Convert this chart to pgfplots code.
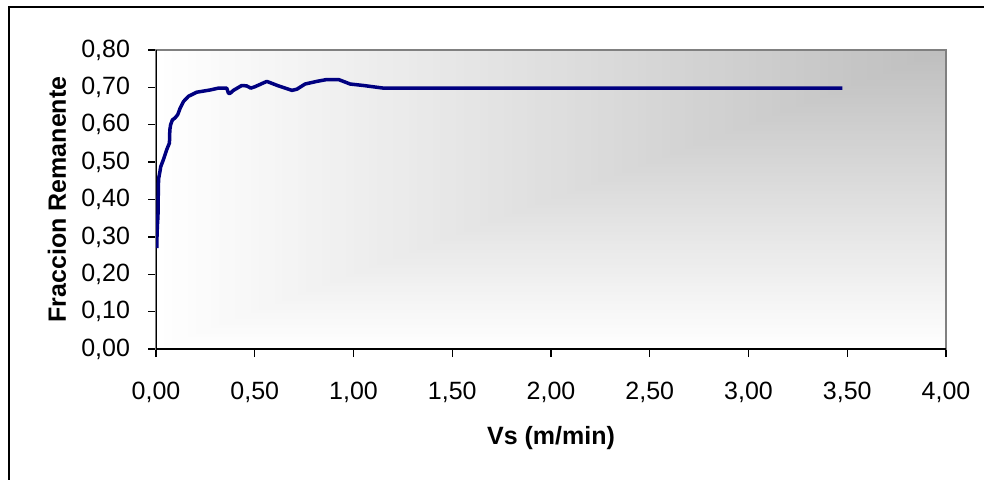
\documentclass[border=0pt]{standalone}
\usepackage{pgfplots}
\pgfplotsset{compat=1.18}
\usepackage{fontspec}
\setmainfont{Liberation Sans}

\definecolor{curve}{RGB}{0,0,128}
\definecolor{bggray}{RGB}{190,190,190}
\definecolor{framegray}{RGB}{128,128,128}

\pgfplotstableread{
v      f
0.004  0.270
0.005  0.300
0.007  0.330
0.010  0.355
0.011  0.400
0.013  0.455
0.020  0.475
0.024  0.488
0.037  0.506
0.054  0.533
0.068  0.551
0.070  0.586
0.074  0.600
0.083  0.613
0.096  0.618
0.110  0.627
0.122  0.644
0.139  0.662
0.164  0.676
0.206  0.687
0.274  0.693
0.316  0.698
0.358  0.698
0.367  0.684
0.375  0.684
0.392  0.692
0.434  0.705
0.459  0.704
0.480  0.698
0.502  0.702
0.561  0.716
0.620  0.704
0.688  0.692
0.713  0.695
0.755  0.709
0.814  0.716
0.865  0.721
0.924  0.721
0.983  0.709
1.051  0.705
1.151  0.698
1.740  0.698
3.475  0.698
}\datatable

\begin{document}
\begin{tikzpicture}
\path[use as bounding box] (0pt,0pt) rectangle (984pt,479pt);
% plot-area fill: corner gradient, darkest at the top right
\foreach \i in {0,...,99} {
  \pgfmathsetmacro\xa{156+\i*7.9}
  \pgfmathsetmacro\ya{130+\i*2.99}
  \pgfmathsetmacro\p{(\i+0.5)}
  \fill[bggray!\p!white] (\xa pt,\ya pt) rectangle (946pt,429pt);
}
% chart frame
\draw[black, line width=2.5pt] (9pt,-5pt) -- (9pt,472pt) -- (990pt,472pt);
\begin{axis}[
  at={(156pt,130pt)}, anchor=south west,
  scale only axis, width=790pt, height=299pt,
  xmin=0, xmax=4, ymin=0, ymax=0.8,
  xtick={0,0.5,...,4}, ytick={0,0.1,...,0.8},
  xtick pos=bottom, ytick pos=left,
  tick align=outside, major tick length=8pt,
  tick style={black, line width=1.3pt},
  axis line style={framegray, line width=1.2pt},
  /pgf/number format/.cd, fixed, fixed zerofill, precision=2, use comma, assume math mode=true,
  /pgfplots/.cd,
  tick label style={font=\fontsize{25}{30}\selectfont, black},
  xticklabel style={yshift=-22pt},
  yticklabel style={xshift=-14.5pt},
  xlabel={\bfseries Vs (m/min)},
  xlabel style={at={(rel axis cs:0.5,0)}, anchor=base, yshift=-95pt,
    font=\fontsize{25}{30}\selectfont},
  ylabel={\bfseries Fraccion Remanente},
  ylabel style={at={(rel axis cs:-0.1253,0.5)}, anchor=center,
    font=\fontsize{25}{30}\selectfont},
]
\draw[black, line width=2pt] (rel axis cs:0,1) -- (rel axis cs:0,0) -- (rel axis cs:1,0);
\addplot[curve, line width=3.5pt, line join=round, line cap=butt, mark=none] table[x=v, y=f] {\datatable};
\end{axis}
\end{tikzpicture}
\end{document}
